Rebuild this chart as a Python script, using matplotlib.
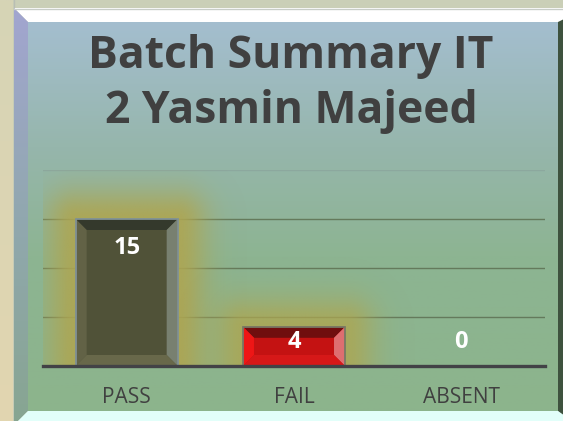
import numpy as np
import matplotlib
matplotlib.use('Agg')
import matplotlib.pyplot as plt
from matplotlib.patches import Polygon, Rectangle

# data
categories = ['PASS', 'FAIL', 'ABSENT']
counts = [15, 4, 0]
title = 'Batch Summary IT\n2 Yasmin Majeed'

W, H = 563, 421
PX_X = 167.3            # pixels per category
PX_Y = 196 / 20.0       # pixels per count unit


def rgb(r, g, b):
    return (r / 255, g / 255, b / 255)


def vgrad(stops, n=400):
    ys = np.linspace(0, 1, n)
    pos = [s[0] for s in stops]
    cols = np.array([s[1] for s in stops], dtype=float) / 255
    img = np.stack([np.interp(ys, pos, cols[:, k]) for k in range(3)], axis=1)
    return img[:, None, :]


fig = plt.figure(figsize=(W / 100, H / 100), dpi=100, facecolor=rgb(202, 207, 183))

# background frame (pixel coords)
bg = fig.add_axes([0, 0, 1, 1], zorder=0)
bg.set_xlim(0, W)
bg.set_ylim(H, 0)
bg.axis('off')
bg.imshow(vgrad([(0, (214, 212, 182)), (1, (226, 214, 176))]), extent=(0, 13, H, 0),
          aspect='auto', zorder=0)
bg.plot([13.5, 13.5], [0, H], color=rgb(185, 190, 180), lw=1, zorder=1)

# panel gradient
bg.imshow(vgrad([(0, (164, 190, 207)), (0.32, (150, 182, 172)), (0.6, (141, 180, 146)),
                 (1, (140, 180, 140))]),
          extent=(28, 558, 411, 22), aspect='auto', zorder=1)
# bevels
top = Polygon([(14, 8), (W + 5, 8), (W + 5, 22), (28, 22)], closed=True,
              fc='white', ec='none', zorder=2)
bg.add_patch(top)
bg.plot([14, W], [8.5, 8.5], color=rgb(200, 205, 200), lw=1, zorder=3)
left = Polygon([(14, 8), (28, 22), (28, 411), (14, 425)], closed=True, fc='none', ec='none',
               zorder=2)
bg.add_patch(left)
limg = bg.imshow(vgrad([(0, (162, 165, 208)), (0.5, (145, 168, 175)), (1, (135, 165, 145))]),
                 extent=(14, 28, 425, 8), aspect='auto', zorder=2)
limg.set_clip_path(left)
bg.add_patch(Polygon([(558, 22), (W + 5, 17), (W + 5, 425), (558, 411)], closed=True,
                     fc=rgb(62, 82, 62), ec='none', zorder=2))
bg.add_patch(Polygon([(28, 411), (558, 411), (W + 5, 418), (W + 5, 430), (14, 430), (14, 425)],
                     closed=True, fc=rgb(226, 255, 250), ec='none', zorder=3))

# main axes
ax = fig.add_axes([43 / W, (H - 366) / H, 502 / W, 196 / H], zorder=2)
ax.patch.set_visible(False)
ax.set_xlim(-0.5, 2.5)
ax.set_ylim(0, 20)
for s in ax.spines.values():
    s.set_visible(False)
ax.set_yticks([])
for gy in (5, 10, 15):
    ax.axhline(gy, color=rgb(100, 122, 92), lw=1, zorder=1)
ax.axhline(20, color=rgb(140, 168, 158), lw=1, zorder=1)

x = np.arange(len(categories))
bw = 102 / PX_X

# glow behind bars
glow_cols = [(174, 166, 82), (174, 166, 80), (0, 0, 0)]
glow_alpha = [0.9, 0.8, 0.0]
for xi, v, gc, ga in zip(x, counts, glow_cols, glow_alpha):
    if v <= 0:
        continue
    pad = 80
    l, r = xi - bw / 2, xi + bw / 2
    x0, x1 = l - pad / PX_X, r + pad / PX_X
    y1 = v + pad / PX_Y
    nx, ny = 200, 200
    gx = np.linspace(x0, x1, nx)
    gy = np.linspace(y1, 0, ny)
    GX, GY = np.meshgrid(gx, gy)
    dx = np.maximum(np.maximum(l - GX, GX - r), 0) * PX_X
    dy = np.maximum(GY - v, 0) * PX_Y
    d = np.hypot(dx, dy)
    a = ga * np.exp(-(d / 30.0) ** 2)
    img = np.zeros((ny, nx, 4))
    img[..., :3] = np.array(gc) / 255
    img[..., 3] = a
    ax.imshow(img, extent=(x0, x1, 0, y1), aspect='auto', zorder=2, interpolation='bilinear')

ax.set_xlim(-0.5, 2.5)
ax.set_ylim(0, 20)

# bars with bevel
faces = [rgb(80, 82, 56), rgb(196, 18, 18), rgb(0, 0, 0)]
bevels = [
    dict(top=rgb(52, 57, 44), left=rgb(98, 98, 70), right=rgb(120, 128, 112),
         bottom=rgb(104, 104, 74), edge=rgb(128, 145, 150)),
    dict(top=rgb(112, 14, 14), left=rgb(238, 22, 22), right=rgb(222, 110, 112),
         bottom=rgb(214, 24, 24), edge=rgb(120, 120, 100)),
    None,
]
bars = ax.bar(x, counts, width=bw, color=faces, zorder=3, linewidth=0)
bx, by = 11 / PX_X, 11 / PX_Y
for b, bev in zip(bars, bevels):
    if bev is None or b.get_height() <= 0:
        continue
    l, r, t = b.get_x(), b.get_x() + b.get_width(), b.get_height()
    polys = {
        'top': [(l, t), (r, t), (r - bx, t - by), (l + bx, t - by)],
        'left': [(l, 0), (l, t), (l + bx, t - by), (l + bx, by)],
        'right': [(r, 0), (r, t), (r - bx, t - by), (r - bx, by)],
        'bottom': [(l, 0), (r, 0), (r - bx, by), (l + bx, by)],
    }
    for k, pts in polys.items():
        ax.add_patch(Polygon(pts, closed=True, fc=bev[k], ec='none', zorder=4))
    ax.add_patch(Rectangle((l, 0), r - l, t, fc='none', ec=bev['edge'], lw=1.3, zorder=5))

# baseline
ax.axhline(0, color=rgb(66, 66, 70), lw=2.4, zorder=6, clip_on=False)

# value labels
for xi, v in zip(x, counts):
    ax.text(xi, max(v - 3.0, 2.5), str(v), ha='center', va='center', color='white',
            fontsize=17, fontweight='bold', family='Open Sans', zorder=7)

ax.set_xticks(x)
ax.set_xticklabels(categories, fontsize=15, family='Open Sans', color=rgb(64, 64, 64))
ax.tick_params(axis='x', length=0, pad=15)

fig.text(291 / W, 1 - 84 / H, title, ha='center', va='center', fontsize=32,
         fontweight='bold', family='Open Sans', color=rgb(64, 64, 64), linespacing=1.32)

fig.savefig('out.png', dpi=100, facecolor=fig.get_facecolor())
